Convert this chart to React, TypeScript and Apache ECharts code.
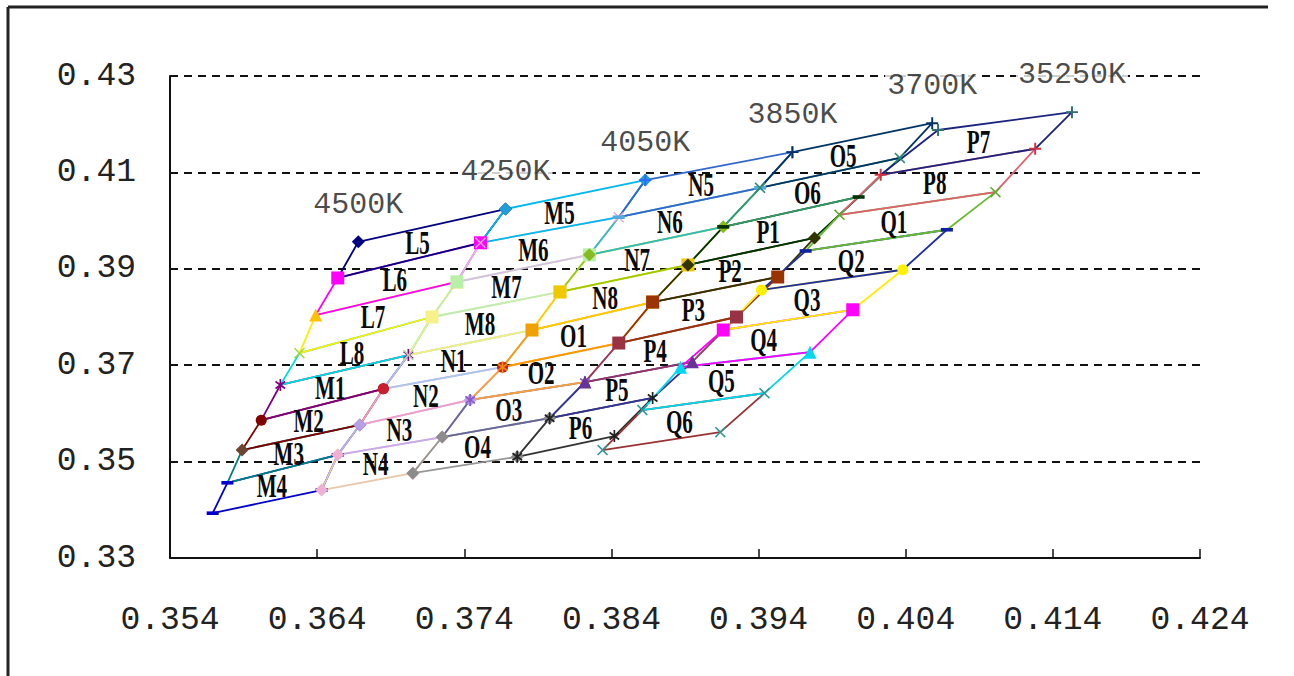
import { useEffect, useRef } from 'react';
import * as echarts from 'echarts';

// ---------- data ----------
const xMin = 0.354, xMax = 0.424, xStep = 0.01;
const yMin = 0.33, yMax = 0.43, yStep = 0.02;

const isoLabels = ['4500K', '4250K', '4050K', '3850K', '3700K', '35250K'];

// isotherm points, top to bottom (CIE x, y)
const iso4500X = [0.3668, 0.3654, 0.3639, 0.3628, 0.3615, 0.3602, 0.3589, 0.3579, 0.3569];
const iso4500Y = [0.3956, 0.3881, 0.3804, 0.3725, 0.3659, 0.3586, 0.3524, 0.3456, 0.3393];
const iso4250X = [0.3768, 0.3751, 0.3735, 0.3718, 0.3702, 0.3685, 0.3669, 0.3654, 0.3643];
const iso4250Y = [0.4024, 0.3954, 0.3873, 0.3800, 0.3721, 0.3651, 0.3576, 0.3514, 0.3441];
const iso4050X = [0.3863, 0.3845, 0.3825, 0.3805, 0.3786, 0.3766, 0.3744, 0.3725, 0.3705];
const iso4050Y = [0.4084, 0.4007, 0.3929, 0.3852, 0.3773, 0.3696, 0.3628, 0.3551, 0.3476];
const iso3850X = [0.3963, 0.3941, 0.3916, 0.3892, 0.3868, 0.3845, 0.3822, 0.3798, 0.3776];
const iso3850Y = [0.4142, 0.4068, 0.3987, 0.3908, 0.3831, 0.3746, 0.3665, 0.3590, 0.3510];
const iso3700aX = [0.4058, 0.4036, 0.4008, 0.3978, 0.3953, 0.3925, 0.3895, 0.3868, 0.3842];
const iso3700aY = [0.4202, 0.4130, 0.4049, 0.3964, 0.3883, 0.3800, 0.3707, 0.3632, 0.3553];
const iso3700bX = [0.4062, 0.4023, 0.3995, 0.3972, 0.3942, 0.3916, 0.3887, 0.3861, 0.3834];
const iso3700bY = [0.4188, 0.4095, 0.4012, 0.3937, 0.3856, 0.3773, 0.3696, 0.3607, 0.3524];
const iso3525X = [0.4153, 0.4128, 0.4101, 0.4068, 0.4038, 0.4004, 0.3975, 0.3944, 0.3914];
const iso3525Y = [0.4225, 0.4149, 0.4059, 0.3981, 0.3898, 0.3815, 0.3727, 0.3642, 0.3561];

const col1Names = ['L5', 'L6', 'L7', 'L8', 'M1', 'M2', 'M3', 'M4'];
const col2Names = ['M5', 'M6', 'M7', 'M8', 'N1', 'N2', 'N3', 'N4'];
const col3Names = ['N5', 'N6', 'N7', 'N8', 'O1', 'O2', 'O3', 'O4'];
const col4Names = ['O5', 'O6', 'P1', 'P2', 'P3', 'P4', 'P5', 'P6'];
const col5Names = ['P7', 'P8', 'Q1', 'Q2', 'Q3', 'Q4', 'Q5', 'Q6'];

const lineColors = [
  '#000080', '#FF00FF', '#FFEE00', '#00DDE0', '#800080', '#800000', '#008080', '#0000CC',
  '#00B8F0', '#D8C0E0', '#C0ECB8', '#F0F080', '#A8C8F0', '#F0A0C8', '#C8A8F0', '#E8C8A8',
  '#3366CC', '#33BBBB', '#99CC00', '#FFCC00', '#FF9900', '#F8A040', '#666699', '#969696',
  '#003366', '#339966', '#003300', '#333300', '#993300', '#993366', '#333399', '#333333',
  '#1A237E', '#E0606E', '#66BB33', '#1F2FA0', '#FFEE00', '#FF00FF', '#00D8E8', '#993333',
];
const markerColors = [
  '#000080', '#FF00FF', '#FFC000', '#A8D840', '#800080', '#800000', '#6B4434', '#0000CC',
  '#1E9FD8', '#E0A8E0', '#B8F0A8', '#F8F088', '#B8D0B0', '#C8202C', '#B8A0E8', '#F0B0D0',
  '#3366FF', '#55AADD', '#88BB22', '#F0C800', '#F0A000', '#F08A10', '#8A5AC8', '#8C8C8C',
  '#003366', '#2E8B70', '#003300', '#333300', '#993300', '#993344', '#663399', '#222222',
  '#2F6F6F', '#D03040', '#60A830', '#1020A0', '#FFF000', '#FF00FF', '#00D8F0', '#2E9A9A',
];
const markerShapes = [
  'diamond', 'rect', 'triangle', 'x', 'star', 'circle', 'diamond', 'dash',
  'diamond', 'x', 'rect', 'rect', 'x', 'circle', 'diamond', 'diamond',
  'plus', 'dash', 'diamond', 'rect', 'rect', 'star', 'star', 'diamond',
  'plus', 'x', 'dash', 'diamond', 'rect', 'rect', 'triangle', 'star',
  'plus', 'plus', 'x', 'dash', 'circle', 'rect', 'triangle', 'x',
];

// ---------- helpers ----------
const symbolMap: Record<string, [string, number]> = {
  diamond: ['diamond', 13],
  rect: ['rect', 13],
  triangle: ['triangle', 13],
  circle: ['circle', 11],
  x: ['path://M1,0L5,4L9,0L10,1L6,5L10,9L9,10L5,6L1,10L0,9L4,5L0,1Z', 11],
  plus: ['path://M4.2,0H5.8V4.2H10V5.8H5.8V10H4.2V5.8H0V4.2H4.2Z', 12],
  star: ['path://M4.3,0H5.7V3.6L8.6,1.5L9.4,2.7L6.3,5L9.4,7.3L8.6,8.5L5.7,6.4V10H4.3V6.4L1.4,8.5L0.6,7.3L3.7,5L0.6,2.7L1.4,1.5L4.3,3.6Z', 12],
  dash: ['path://M0,0H10V3H0Z', 12],
};

const columns = [
  { lx: iso4500X, ly: iso4500Y, rx: iso4250X, ry: iso4250Y, names: col1Names },
  { lx: iso4250X, ly: iso4250Y, rx: iso4050X, ry: iso4050Y, names: col2Names },
  { lx: iso4050X, ly: iso4050Y, rx: iso3850X, ry: iso3850Y, names: col3Names },
  { lx: iso3850X, ly: iso3850Y, rx: iso3700aX, ry: iso3700aY, names: col4Names },
  { lx: iso3700bX, ly: iso3700bY, rx: iso3525X, ry: iso3525Y, names: col5Names },
];

const isoTops = [
  [iso4500X[0], iso4500Y[0]],
  [iso4250X[0], iso4250Y[0]],
  [iso4050X[0], iso4050Y[0]],
  [iso3850X[0], iso3850Y[0]],
  [iso3700aX[0], iso3700aY[0]],
  [iso3525X[0], iso3525Y[0]],
];

function buildOption() {
  const series: any[] = [];
  const labelNames: string[] = [];
  const labelData: number[][] = [];

  columns.forEach((col, ci) => {
    for (let r = 7; r >= 0; r--) {
      const idx = ci * 8 + r;
      const TL = [col.lx[r], col.ly[r]];
      const TR = [col.rx[r], col.ry[r]];
      const BL = [col.lx[r + 1], col.ly[r + 1]];
      const BR = [col.rx[r + 1], col.ry[r + 1]];
      const [sym, size] = symbolMap[markerShapes[idx]];
      const mk = (p: number[], show: boolean) => ({
        value: p,
        symbol: show ? sym : 'none',
        symbolSize: size,
      });
      series.push({
        type: 'line',
        name: col.names[r],
        data: [mk(TL, true), mk(BL, r === 7), mk(BR, r === 7), mk(TR, true), mk(TL, false)],
        lineStyle: { color: lineColors[idx], width: 1.8 },
        itemStyle: { color: markerColors[idx] },
        symbolKeepAspect: true,
        showSymbol: true,
        silent: true,
        emphasis: { disabled: true },
        z: 2,
      });
      labelNames.push(col.names[r]);
      labelData.push([
        (TL[0] + TR[0] + BL[0] + BR[0]) / 4,
        (TL[1] + TR[1] + BL[1] + BR[1]) / 4,
      ]);
    }
  });

  series.push({
    type: 'custom',
    name: 'binLabels',
    data: labelData,
    silent: true,
    z: 5,
    clip: false,
    renderItem: (params: any, api: any) => {
      const p = api.coord([api.value(0), api.value(1)]);
      return {
        type: 'text',
        x: p[0] - 3,
        y: p[1],
        scaleX: 0.62,
        style: {
          text: labelNames[params.dataIndex],
          fill: '#0a0a0a',
          font: 'bold 34px "Liberation Serif", "DejaVu Serif", serif',
          align: 'center',
          verticalAlign: 'middle',
          textAlign: 'center',
          textVerticalAlign: 'middle',
        },
      };
    },
  });

  series.push({
    type: 'scatter',
    name: 'isotherms',
    data: isoTops.map((p, i) => ({ name: isoLabels[i], value: p })),
    symbolSize: 0,
    silent: true,
    z: 6,
    label: {
      show: true,
      position: 'top',
      distance: 22,
      formatter: '{b}',
      fontFamily: '"Liberation Mono", monospace',
      fontSize: 30,
      color: '#1a1a1a',
      backgroundColor: '#fff',
      padding: [0, 2],
    },
  });

  return {
    animation: false,
    backgroundColor: '#fff',
    grid: { left: 170, right: 94, top: 76, bottom: 118 },
    xAxis: {
      type: 'value',
      min: xMin,
      max: xMax,
      interval: xStep,
      axisLine: { show: true, lineStyle: { color: '#111', width: 2 } },
      axisTick: { show: true, inside: true, length: 9, lineStyle: { color: '#111', width: 1.5 } },
      splitLine: { show: false },
      axisLabel: {
        formatter: (v: number) => v.toFixed(3),
        fontFamily: '"Liberation Mono", monospace',
        fontSize: 33,
        color: '#222',
        margin: 46,
      },
    },
    yAxis: {
      type: 'value',
      min: yMin,
      max: yMax,
      interval: yStep,
      axisLine: { show: true, lineStyle: { color: '#111', width: 2 } },
      axisTick: { show: false },
      splitLine: { show: true, lineStyle: { color: '#111', width: 2, type: [8, 6] } },
      axisLabel: {
        formatter: (v: number) => v.toFixed(2),
        fontFamily: '"Liberation Mono", monospace',
        fontSize: 33,
        color: '#222',
        margin: 34,
      },
    },
    graphic: [
      { type: 'line', shape: { x1: 8, y1: 7, x2: 1268, y2: 7 }, style: { stroke: '#222', lineWidth: 3 } },
      { type: 'line', shape: { x1: 8, y1: 7, x2: 8, y2: 676 }, style: { stroke: '#222', lineWidth: 3 } },
    ],
    series,
  };
}

export default function App() {
  const ref = useRef<HTMLDivElement>(null);
  useEffect(() => {
    if (!ref.current) return;
    const chart = echarts.init(ref.current, undefined, { renderer: 'svg' });
    chart.setOption(buildOption() as any);
    return () => chart.dispose();
  }, []);
  return (
    <div
      ref={ref}
      style={{ position: 'fixed', left: 0, top: 0, width: 1294, height: 676, background: '#fff' }}
    />
  );
}
